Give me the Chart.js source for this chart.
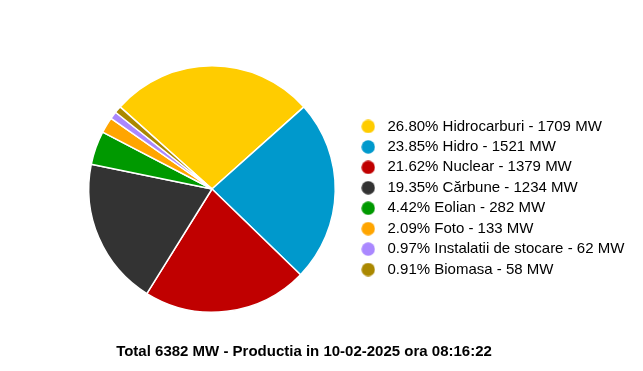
<!DOCTYPE html>
<html>
<head>
<meta charset="utf-8">
<script src="https://cdn.jsdelivr.net/npm/chart.js@4/dist/chart.umd.min.js"></script>
<style>
  html, body { margin: 0; padding: 0; background: #fff; }
  #wrap { width: 643px; height: 371px; }
</style>
</head>
<body>
<div id="wrap"><canvas id="grafica"></canvas></div>
<script>
// date
const categorii = ["Hidrocarburi", "Hidro", "Nuclear", "Cărbune", "Eolian", "Foto", "Instalatii de stocare", "Biomasa"];
const valori = [1709, 1521, 1379, 1234, 282, 133, 62, 58];
const procente = ["26.80%", "23.85%", "21.62%", "19.35%", "4.42%", "2.09%", "0.97%", "0.91%"];
const culori = ["#ffcc00", "#0099cc", "#c00000", "#333333", "#009900", "#ffa500", "#aa88ff", "#aa8800"];
const titlu = "Total 6382 MW - Productia in 10-02-2025 ora 08:16:22";

const etichete = categorii.map((c, i) => `${procente[i]} ${c} - ${valori[i]} MW`);
const total = valori.reduce((a, b) => a + b, 0);

// bulina pentru legenda
function bulina(color) {
  const c = document.createElement("canvas");
  c.width = 14; c.height = 14;
  const g = c.getContext("2d");
  g.fillStyle = color;
  g.beginPath();
  g.arc(7, 7, 6.7, 0, Math.PI * 2);
  g.fill();
  return c;
}
const buline = culori.map(bulina);

// mut titlul si legenda dupa layout
const ajustare = {
  id: "ajustare",
  afterLayout(chart) {
    if (chart.titleBlock) {
      chart.titleBlock.left = 0;
      chart.titleBlock.right = chart.width - 35;
    }
    if (chart.legend) {
      chart.legend.top -= 15;
      chart.legend.bottom -= 15;
    }
  }
};

const ctx = document.getElementById("grafica").getContext("2d");
new Chart(ctx, {
  type: "pie",
  data: {
    labels: etichete,
    datasets: [{
      data: valori,
      backgroundColor: culori,
      borderColor: "#ffffff",
      borderWidth: 1.5
    }]
  },
  options: {
    responsive: true,
    maintainAspectRatio: false,
    animation: false,
    rotation: -(valori[0] / total) * 180,
    layout: { padding: { left: 73, right: 14, top: 65, bottom: 10 } },
    plugins: {
      legend: {
        position: "right",
        labels: {
          usePointStyle: true,
          pointStyleWidth: 23.6,
          padding: 5.43,
          color: "#000",
          font: { family: "'Liberation Sans', Arial", size: 15 },
          generateLabels(chart) {
            const items = Chart.overrides.pie.plugins.legend.labels.generateLabels(chart);
            items.forEach((it, i) => { it.pointStyle = buline[i]; });
            return items;
          }
        }
      },
      title: {
        display: true,
        position: "bottom",
        text: titlu,
        color: "#000",
        font: { family: "'Liberation Sans', Arial", size: 15, weight: "bold" },
        padding: { top: 30, bottom: 0 }
      },
      tooltip: { enabled: false }
    }
  },
  plugins: [ajustare]
});
</script>
</body>
</html>
